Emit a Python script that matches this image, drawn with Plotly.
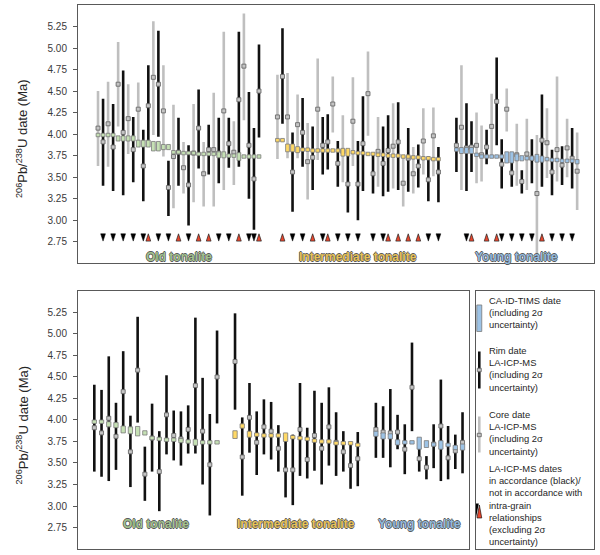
import plotly.graph_objects as go

# ---------------- TOP PANEL: LA-ICP-MS spots in plotted order (C = core, R = rim) ----------------
old_kind = ["C","R","C","R","C","R","C","R","C","R","R","C","R","C","R","C","R","C","R","C","R","C","R","C","R","C","R","C","R","C","R","R","R"]
old_date = [4.07,3.91,4.12,3.85,4.58,4.02,4.18,3.82,4.29,3.63,4.33,4.66,4.58,4.27,3.38,3.74,3.79,3.61,3.41,3.78,
            4.07,3.54,3.82,3.82,3.78,4.27,3.89,3.79,4.40,4.79,3.87,3.48,4.50]
old_lo = [3.63,3.40,3.62,3.34,4.09,3.29,3.77,3.44,3.89,3.22,3.87,3.99,3.97,3.74,3.05,3.14,3.40,3.31,2.94,3.21,
          3.60,3.16,3.53,3.16,3.43,3.35,3.61,3.41,3.62,4.16,3.25,2.89,3.96]
old_hi = [4.50,4.41,4.61,4.35,5.07,4.74,4.58,4.20,4.60,4.05,4.80,5.31,5.20,4.80,3.69,4.34,4.19,3.91,3.87,4.35,
          4.52,3.91,4.11,4.48,4.19,5.19,4.19,4.15,5.19,5.40,4.49,4.07,5.04]
old_tims = [3.99,3.99,3.99,3.99,3.95,3.95,3.95,3.95,3.89,3.89,3.89,3.86,3.86,3.85,3.85,3.79,3.79,3.78,3.78,3.78,
            3.77,3.77,3.77,3.77,3.76,3.76,3.75,3.75,3.74,3.74,3.74,3.74,3.74]
old_tims_err = [0.02,0.02,0.02,0.02,0.03,0.03,0.03,0.03,0.04,0.04,0.04,0.055,0.055,0.03,0.03,0.02,0.02,0.02,0.02,0.02,
                0.02,0.02,0.02,0.02,0.035,0.035,0.02,0.02,0.045,0.02,0.02,0.02,0.02]
# Y = in accordance (black), N = not in accordance (red), "" = no flag
old_accord = ["","Y","","Y","","Y","","Y","","Y","N","","Y","","Y","","N","","Y","","N","","N","","Y","","Y","","N","","Y","Y","N"]

int_kind = ["C","R","C","R","C","R","C","R","C","R","R","C","R","C","R","C","R","R","C","R","C","R","R","C","R","C","R","C","R","C","R","C","R"]
int_date = [4.20,4.67,4.20,3.56,4.11,4.02,3.68,3.73,4.29,3.87,3.91,4.35,3.66,3.80,3.42,4.15,3.42,3.89,4.47,3.54,
            3.80,3.66,3.81,3.86,3.91,3.43,3.72,3.54,3.63,3.92,3.47,3.98,3.56]
int_lo = [3.71,4.12,3.72,3.10,3.72,3.62,3.24,3.35,3.70,3.53,3.59,4.02,3.39,3.44,3.09,3.63,3.00,3.34,3.98,3.31,
          3.39,3.28,3.33,3.37,3.35,3.16,3.33,3.31,3.38,3.53,3.22,3.51,3.21]
int_hi = [4.69,5.23,4.71,4.02,4.46,4.42,4.13,4.09,4.88,4.20,4.23,4.67,3.92,4.22,3.80,4.66,3.92,4.44,4.96,3.76,
          4.20,4.09,4.22,4.36,4.37,3.75,4.07,3.85,3.88,4.30,3.74,4.31,3.85]
int_tims = [3.93,3.93,3.84,3.84,3.82,3.82,3.82,3.81,3.81,3.81,3.81,3.81,3.81,3.79,3.79,3.79,3.78,3.78,3.77,3.77,
            3.76,3.76,3.75,3.75,3.75,3.74,3.74,3.73,3.73,3.72,3.72,3.71,3.71]
int_tims_err = [0.02,0.02,0.045,0.045,0.035,0.02,0.02,0.02,0.02,0.02,0.02,0.02,0.02,0.045,0.045,0.02,0.02,0.02,0.02,0.02,
                0.02,0.02,0.02,0.02,0.02,0.02,0.02,0.02,0.02,0.02,0.02,0.02,0.02]
int_accord = ["","N","","Y","","Y","","N","","Y","N","","Y","","Y","","Y","","","Y","","Y","N","","N","","N","","N","","Y","","Y"]

yng_kind = ["R","C","R","R","C","C","R","C","R","R","C","R","C","R","C","R","C","R","C","R","C","R","C","R","C"]
yng_date = [3.87,4.08,3.84,3.85,3.87,3.76,3.85,4.09,4.38,3.65,4.29,3.55,3.76,3.45,3.77,3.72,3.31,3.93,3.90,3.56,
            3.82,3.64,3.84,3.72,3.57]
yng_lo = [3.56,3.35,3.34,3.56,3.43,3.45,3.65,3.72,3.87,3.37,4.03,3.39,3.40,3.31,3.35,3.43,2.60,3.39,3.49,3.29,
          3.45,3.41,3.50,3.37,3.12]
yng_hi = [4.19,4.80,4.36,4.15,4.25,4.10,4.05,4.47,4.89,3.94,4.53,3.72,4.12,3.58,4.18,3.94,3.99,4.46,4.30,3.82,
          4.67,3.86,4.18,4.07,4.02]
yng_tims = [3.82,3.81,3.81,3.81,3.76,3.74,3.74,3.74,3.74,3.74,3.73,3.73,3.73,3.72,3.72,3.72,3.72,3.71,3.71,3.70,
            3.70,3.69,3.69,3.69,3.68]
yng_tims_err = [0.02,0.035,0.035,0.035,0.02,0.02,0.02,0.02,0.02,0.02,0.065,0.065,0.04,0.03,0.02,0.025,0.045,0.035,0.02,0.02,
                0.02,0.02,0.02,0.02,0.025]
yng_accord = ["","","Y","N","","","N","","N","Y","","Y","","Y","","Y","","N","","Y","","Y","","Y",""]

# ---------------- BOTTOM PANEL: rim dates per grain with CA-ID-TIMS ----------------
b_old_date = [3.91,3.85,4.02,3.81,4.33,3.63,4.58,3.37,3.79,3.40,4.06,3.82,3.78,3.89,4.40,3.87,3.48,4.50]
b_old_lo = [3.40,3.34,3.29,3.42,3.87,3.22,3.97,3.06,3.40,2.94,3.60,3.53,3.47,3.61,3.61,3.25,2.89,3.96]
b_old_hi = [4.41,4.35,4.74,4.20,4.80,4.05,5.20,3.69,4.19,3.87,4.52,4.11,4.10,4.17,5.19,4.49,4.07,5.04]
b_old_tims = [3.98,3.98,3.95,3.94,3.89,3.88,3.87,3.85,3.79,3.78,3.77,3.77,3.76,3.75,3.74,3.74,3.74,3.74]
b_old_err = [0.02,0.02,0.03,0.03,0.04,0.04,0.055,0.025,0.02,0.02,0.02,0.02,0.025,0.02,0.035,0.02,0.02,0.02]

b_int_date = [4.68,3.57,4.03,3.74,3.92,3.87,3.67,3.42,3.42,3.89,3.54,3.82,3.67,3.92,3.74,3.63,3.47,3.55]
b_int_lo = [4.12,3.12,3.62,3.36,3.60,3.54,3.40,3.10,3.01,3.35,3.32,3.41,3.25,3.47,3.35,3.40,3.20,3.23]
b_int_hi = [5.24,4.03,4.43,4.10,4.24,4.21,3.94,3.82,3.83,4.43,3.91,4.34,4.20,4.38,4.09,3.87,3.74,3.86]
b_int_tims = [3.83,3.93,3.835,3.83,3.82,3.82,3.82,3.80,3.80,3.79,3.78,3.76,3.75,3.75,3.73,3.73,3.73,3.71]
b_int_err = [0.045,0.025,0.035,0.02,0.02,0.02,0.02,0.05,0.02,0.02,0.02,0.02,0.02,0.02,0.02,0.02,0.02,0.02]

b_yng_date = [3.89,3.86,3.85,3.86,3.66,4.38,3.55,3.45,3.72,3.93,3.56,3.64,3.74]
b_yng_lo = [3.56,3.56,3.45,3.66,3.37,3.87,3.40,3.31,3.44,3.29,3.31,3.43,3.38]
b_yng_hi = [4.20,4.16,4.36,4.06,3.95,4.90,3.70,3.58,3.95,4.47,3.93,3.83,4.09]
b_yng_tims = [3.84,3.815,3.81,3.74,3.74,3.74,3.73,3.72,3.715,3.71,3.71,3.68,3.685]
b_yng_err = [0.03,0.035,0.03,0.03,0.02,0.02,0.07,0.04,0.02,0.05,0.02,0.025,0.035]

group_names = ["Old tonalite", "Intermediate tonalite", "Young tonalite"]
y_ticks = [2.75, 3.00, 3.25, 3.50, 3.75, 4.00, 4.25, 4.50, 4.75, 5.00, 5.25]

# ---------------- styling / layout constants ----------------
FONT = "Liberation Sans, Arial, sans-serif"
TIMS_FILL = ["#c5e0b4", "#ffd966", "#9dc3e6"]
LABEL_COL = ["#a3c28f", "#e8c257", "#92b9dd"]
RIM_COL = "#111111"
CORE_COL = "#bfbfbf"
RED = "#e8472e"
TOP_OFFSETS = [0.0, 35.67, 71.25]     # slot offset of each group (top panel)
BOT_OFFSETS = [0.0, 19.49, 39.0]      # grain offset of each group (bottom panel)
FLAG_Y = 2.80
FLAG_W = 0.95     # flag triangle width (slot units)
FLAG_H = 0.085    # flag triangle height (Ma units)
TOP_LABEL_Y = 2.57
BOT_LABEL_Y = 2.79
MIN_ERR = 0.02
SHADOW = "-0.7px 0 0 #5a5a5a, 0.7px 0 0 #5a5a5a, 0 -0.7px 0 #5a5a5a, 0 0.7px 0 #5a5a5a"

fig = go.Figure()


def add_bars(xs, d, lo, hi, color, xa, ya):
    if not xs:
        return
    fig.add_trace(go.Scatter(
        x=xs, y=d, mode="markers", xaxis=xa, yaxis=ya,
        marker=dict(symbol="square", size=4, color="#c4c4c4", line=dict(color="#6a6a6a", width=0.9)),
        error_y=dict(type="data", symmetric=False,
                     array=[h - v for h, v in zip(hi, d)],
                     arrayminus=[v - l for v, l in zip(d, lo)],
                     color=color, thickness=2.6, width=0),
        showlegend=False, hoverinfo="skip"))


def add_tims(xs, t, e, fill, width, xa, ya):
    px, py = [], []
    for x, c, er in zip(xs, t, e):
        er = max(er, MIN_ERR)
        x0, x1 = x - width / 2, x + width / 2
        px += [x0, x1, x1, x0, x0, None]
        py += [c - er, c - er, c + er, c + er, c - er, None]
    fig.add_trace(go.Scatter(x=px, y=py, mode="lines", fill="toself", fillcolor=fill,
                             line=dict(color="#7a7a7a", width=0.8), xaxis=xa, yaxis=ya,
                             showlegend=False, hoverinfo="skip"))


def add_flags(xs, flags, xa, ya):
    dx, dy, ux, uy = [], [], [], []
    for x, f in zip(xs, flags):
        if f == "Y":   # downward black triangle
            dx += [x - FLAG_W / 2, x + FLAG_W / 2, x, x - FLAG_W / 2, None]
            dy += [FLAG_Y + FLAG_H / 2, FLAG_Y + FLAG_H / 2, FLAG_Y - FLAG_H / 2, FLAG_Y + FLAG_H / 2, None]
        elif f == "N":  # upward red triangle
            ux += [x - FLAG_W / 2, x + FLAG_W / 2, x, x - FLAG_W / 2, None]
            uy += [FLAG_Y - FLAG_H / 2, FLAG_Y - FLAG_H / 2, FLAG_Y + FLAG_H / 2, FLAG_Y - FLAG_H / 2, None]
    fig.add_trace(go.Scatter(x=dx, y=dy, mode="lines", fill="toself", fillcolor="black",
                             line=dict(color="black", width=0.5), xaxis=xa, yaxis=ya,
                             showlegend=False, hoverinfo="skip"))
    fig.add_trace(go.Scatter(x=ux, y=uy, mode="lines", fill="toself", fillcolor=RED,
                             line=dict(color="#222222", width=0.7), xaxis=xa, yaxis=ya,
                             showlegend=False, hoverinfo="skip"))


top_groups = [
    (old_kind, old_date, old_lo, old_hi, old_tims, old_tims_err, old_accord),
    (int_kind, int_date, int_lo, int_hi, int_tims, int_tims_err, int_accord),
    (yng_kind, yng_date, yng_lo, yng_hi, yng_tims, yng_tims_err, yng_accord),
]
for g, (kind, d, lo, hi, t, e, acc) in enumerate(top_groups):
    xs = [TOP_OFFSETS[g] + i for i in range(len(d))]
    for k, col in (("C", CORE_COL), ("R", RIM_COL)):
        idx = [i for i, kk in enumerate(kind) if kk == k]
        add_bars([xs[i] for i in idx], [d[i] for i in idx], [lo[i] for i in idx], [hi[i] for i in idx], col, "x", "y")
    add_tims(xs, t, e, TIMS_FILL[g], 0.75, "x", "y")
    add_flags(xs, acc, "x", "y")
    fig.add_annotation(x=sum(xs) / len(xs), y=TOP_LABEL_Y, xref="x", yref="y", text="<b>%s</b>" % group_names[g],
                       showarrow=False, font=dict(family=FONT, size=12, color=LABEL_COL[g], shadow=SHADOW))

bot_groups = [
    (b_old_date, b_old_lo, b_old_hi, b_old_tims, b_old_err),
    (b_int_date, b_int_lo, b_int_hi, b_int_tims, b_int_err),
    (b_yng_date, b_yng_lo, b_yng_hi, b_yng_tims, b_yng_err),
]
for g, (d, lo, hi, t, e) in enumerate(bot_groups):
    xs = [BOT_OFFSETS[g] + i for i in range(len(d))]
    add_bars(xs, d, lo, hi, RIM_COL, "x2", "y2")
    add_tims(xs, t, e, TIMS_FILL[g], 0.6, "x2", "y2")
    fig.add_annotation(x=sum(xs) / len(xs), y=BOT_LABEL_Y, xref="x2", yref="y2", text="<b>%s</b>" % group_names[g],
                       showarrow=False, font=dict(family=FONT, size=12, color=LABEL_COL[g], shadow=SHADOW))

# ---------------- axes ----------------
frame = dict(showline=True, mirror=True, linecolor="#595959", linewidth=1, showgrid=False, zeroline=False,
             automargin=False)
yax = dict(range=[2.5, 5.5], tickvals=y_ticks, ticktext=["%.2f" % v for v in y_ticks], ticks="outside",
           ticklen=4, tickcolor="#595959", tickfont=dict(family=FONT, size=10, color="#3a3a3a"),
           ticklabelstandoff=4, **frame)
xax = dict(showticklabels=False, ticks="", **frame)

fig.update_layout(
    width=600, height=555, margin=dict(l=78, r=6, t=5, b=6),
    paper_bgcolor="white", plot_bgcolor="white",
    xaxis=dict(domain=[0, 1], anchor="y", range=[-3.98, 98.6], **xax),
    yaxis=dict(domain=[0.5252, 1], anchor="x", **yax),
    xaxis2=dict(domain=[0, 0.7578], anchor="y2", range=[-2.26, 51.9], **xax),
    yaxis2=dict(domain=[0, 0.4743], anchor="x2", **yax),
    xaxis3=dict(domain=[0.7713, 1], anchor="y3", range=[476, 594.3], **xax),
    yaxis3=dict(domain=[0, 0.4743], anchor="x3", range=[549, 291], showticklabels=False, ticks="", **frame),
)

ytitle = "<sup>206</sup>Pb/<sup>238</sup>U date (Ma)"
for yc in (0.7546, 0.228):
    fig.add_annotation(x=-0.1076, y=yc, xref="paper", yref="paper", text=ytitle, textangle=-90,
                       showarrow=False, xanchor="center", yanchor="middle",
                       font=dict(family=FONT, size=13, color="#262626"))

# ---------------- legend panel (drawn in pixel-like coordinates of x3/y3) ----------------
L = dict(xref="x3", yref="y3")
fig.add_shape(type="rect", x0=476.8, x1=481.8, y0=305, y1=331.5, fillcolor=TIMS_FILL[2],
              line=dict(color="#7a7a7a", width=0.8), **L)
fig.add_shape(type="line", x0=479.3, x1=479.3, y0=351.5, y1=388.5, line=dict(color=RIM_COL, width=2.6), **L)
fig.add_shape(type="rect", x0=477.3, x1=481.3, y0=368.3, y1=371.7, fillcolor="#c4c4c4",
              line=dict(color="#6a6a6a", width=0.9), **L)
fig.add_shape(type="line", x0=479.3, x1=479.3, y0=416.5, y1=452.5, line=dict(color=CORE_COL, width=2.6), **L)
fig.add_shape(type="rect", x0=477.3, x1=481.3, y0=433.3, y1=436.7, fillcolor="#c4c4c4",
              line=dict(color="#6a6a6a", width=0.9), **L)
fig.add_shape(type="path", path="M 473.3 503.5 L 478.8 503.5 L 476.05 517.5 Z", fillcolor="black",
              line=dict(width=0), **L)
fig.add_shape(type="path", path="M 477.0 518 L 481.8 518 L 479.4 505 Z", fillcolor=RED,
              line=dict(color="black", width=0.6), **L)

legend_texts = [
    (313.0, "CA-ID-TIMS date<br>(including 2σ<br>uncertainty)"),
    (369.5, "Rim date<br>LA-ICP-MS<br>(including 2σ<br>uncertainty)"),
    (433.5, "Core date<br>LA-ICP-MS<br>(including 2σ<br>uncertainty)"),
    (505.2, "LA-ICP-MS dates<br>in accordance (black)/<br>not in accordance with<br>intra-grain<br>"
            "relationships<br>(excluding 2σ<br>uncertainty)"),
]
for yc, txt in legend_texts:
    fig.add_annotation(x=487.5, y=yc, text=txt, showarrow=False, xanchor="left", yanchor="middle", align="left",
                       font=dict(family=FONT, size=9.4, color="#262626"), **L)

fig.write_html("out.html", config={"displayModeBar": False},
               post_script="document.body.style.margin='0px';")
